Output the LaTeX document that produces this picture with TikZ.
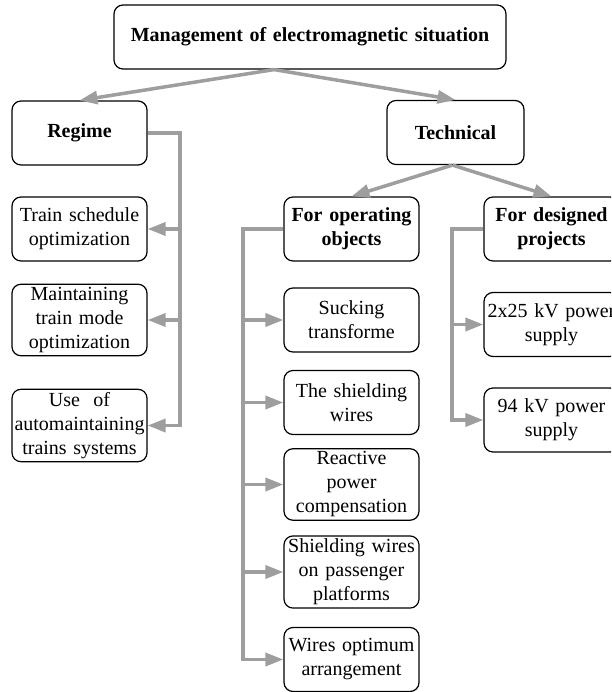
\documentclass[tikz,border=0pt]{standalone}
\usepackage{fontspec}
\setmainfont{Liberation Serif}
\usetikzlibrary{arrows.meta}

\tikzset{
  box/.style={draw, line width=1.2pt, rounded corners=9pt, align=center,
    text width=133pt, inner xsep=1pt, inner ysep=3pt, minimum height=64pt,
    font=\fontsize{20}{24}\selectfont},
  hbox/.style={box, font=\fontsize{20}{24}\selectfont\bfseries},
  link/.style={draw=black!38, line width=3.5pt},
  arr/.style={link, -{Triangle[length=18pt,width=13pt]}}
}

\begin{document}
\begin{tikzpicture}[x=1pt,y=-1pt]
\useasboundingbox (0,0) rectangle (611,692);
\clip (0,0) rectangle (611,692);

% ======== верхние уровни ========
\node[hbox, text width=390pt] (top) at (310,37) {Management of electromagnetic situation};
\node[hbox] (regime) at (79.5,133) {Regime};
\node[hbox, text width=135pt] (tech) at (455.5,132.5) {Technical};
\node[hbox] (oper) at (351.5,229) {For operating\\objects};
\node[hbox] (des) at (551.5,229) {For designed\\projects};

% ======== режимные ========
\foreach \nm/\yy/\txt in {
r1/229/{Train schedule\\optimization},
r2/320/{Maintaining\\train mode\\optimization},
r3/425.5/{Use\ \ of\\automaintaining\\trains systems}}
{
  \node[box] (\nm) at (79.5,\yy) {\txt};
}

% ======== для действующих объектов ========
\foreach \nm/\yy/\txt in {
o1/320/{Sucking\\transforme},
o2/402.5/{The shielding\\wires},
o3/484.5/{Reactive\\power\\compensation},
o4/572/{Shielding wires\\on passenger\\platforms},
o5/659.5/{Wires optimum\\arrangement}}
{
  \node[box] (\nm) at (351.5,\yy) {\txt};
}

% ======== для проектируемых ========
\foreach \nm/\yy/\txt in {
d1/324.5/{2x25 kV power\\supply},
d2/420/{94 kV power\\supply}}
{
  \node[box] (\nm) at (551.5,\yy) {\txt};
}

% стрелки сверху вниз
\draw[arr] ([xshift=-36pt]top.south) -- (regime.north);
\draw[arr] ([xshift=-36pt]top.south) -- (tech.north);
\draw[arr] ([xshift=-3pt]tech.south) -- (oper.north);
\draw[arr] ([xshift=-3pt]tech.south) -- (des.north);

% стволы
\coordinate (rt) at (180,133);
\coordinate (ot) at (243,229);
\coordinate (dt) at (452,229);

\draw[arr] (regime.east) -- (rt) |- (r3.east);
\foreach \b in {r1,r2}
  \draw[arr] (rt |- \b.east) -- (\b.east);

\draw[arr] (oper.west) -- (ot) |- (o5.west);
\foreach \b in {o1,o2,o3,o4}
  \draw[arr] (ot |- \b.west) -- (\b.west);

\draw[arr] (des.west) -- (dt) |- (d2.west);
\draw[arr] (dt |- d1.west) -- (d1.west);

\end{tikzpicture}
\end{document}
